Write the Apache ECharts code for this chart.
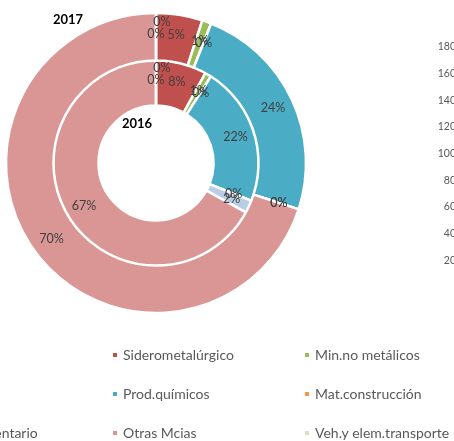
<!DOCTYPE html>
<html>
<head>
<meta charset="utf-8">
<script src="https://cdn.jsdelivr.net/npm/echarts@6/dist/echarts.min.js"></script>
<style>
  html, body { margin: 0; padding: 0; background: #fff; }
  #chart { width: 454px; height: 441px; }
</style>
</head>
<body>
<div id="chart"></div>
<script>
// Cargo groups, in the order they are stacked clockwise from 12 o'clock
const categories = [
  'Energéticos', 'Siderometalúrgico', 'Min.no metálicos',
  'Abonos', 'Prod.químicos', 'Mat.construcción',
  'Prod.agroalimentario', 'Otras Mcias', 'Veh.y elem.transporte'
];
// Share of each group (%) per year
const share2016 = [0, 8, 1, 0, 22, 0, 2, 67, 0];
const share2017 = [0, 5, 1, 0, 24, 0, 0, 70, 0];
const years = ['2016', '2017'];

// Scale of the neighbouring tonnage axis
const axisMin = 0;
const axisMax = 180;
const axisStep = 20;

const palette = ['#4f81bd', '#c0504d', '#9bbb59', '#8064a2', '#4bacc6',
                 '#f79646', '#b9cde5', '#d99694', '#d7e4bd'];
const FONT = 'Lato';

function ring(name, values, radius) {
  return {
    type: 'pie',
    name: name,
    center: [156, 163],
    radius: radius,
    startAngle: 90,
    clockwise: true,
    percentPrecision: 0,
    avoidLabelOverlap: false,
    labelLayout: { hideOverlap: false },
    silent: true,
    animation: false,
    itemStyle: { borderColor: '#fff', borderWidth: 2.5 },
    label: {
      show: true, position: 'inside', formatter: '{d}%',
      color: '#404040', fontFamily: FONT, fontSize: 12.5
    },
    labelLine: { show: false },
    data: categories.map(function (c, i) {
      const item = { name: c, value: values[i], itemStyle: { color: palette[i] } };
      // the closing zero slice sits on the same spot as the first one; nudge its tag
      if (i === categories.length - 1) item.label = { offset: [6, -12] };
      return item;
    })
  };
}

const colLeft = [-102, 111, 303];
const legends = [0, 1, 2].map(function (c) {
  return {
    orient: 'vertical',
    left: colLeft[c],
    top: 347,
    height: 200,
    padding: 0,
    itemWidth: 6,
    itemHeight: 6,
    itemGap: 23,
    icon: 'rect',
    selectedMode: false,
    data: categories.filter(function (_, i) { return i % 3 === c; }),
    textStyle: { color: '#595959', fontFamily: FONT, fontSize: 14, lineHeight: 16 }
  };
});

const chart = echarts.init(document.getElementById('chart'), null, { renderer: 'canvas' });
chart.setOption({
  backgroundColor: '#fff',
  color: palette,
  title: [
    { text: years[1], left: 53, top: 13, padding: 0,
      textStyle: { fontFamily: FONT, fontSize: 13, fontWeight: 'bold', color: '#000' } },
    { text: years[0], left: 122, top: 117, padding: 0,
      textStyle: { fontFamily: FONT, fontSize: 13, fontWeight: 'bold', color: '#000' } }
  ],
  legend: legends,
  grid: { left: 458, top: 47, width: 40, height: 240 },
  xAxis: { type: 'category', show: false, data: [] },
  yAxis: {
    type: 'value', min: axisMin, max: axisMax, interval: axisStep,
    axisLine: { show: false }, axisTick: { show: false }, splitLine: { show: false },
    axisLabel: { margin: 2, color: '#595959', fontFamily: FONT, fontSize: 10.5, showMinLabel: false }
  },
  series: [
    ring(years[0], share2016, [57.5, 103.5]),
    ring(years[1], share2017, [102.5, 150])
  ]
});
</script>
</body>
</html>
